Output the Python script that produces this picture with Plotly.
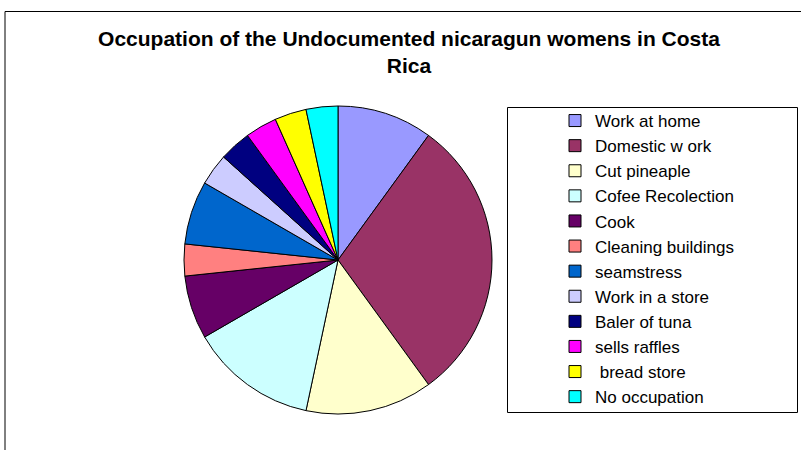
import plotly.graph_objects as go

W, H = 801, 450

labels = ["Work at home", "Domestic w ork", "Cut pineaple", "Cofee Recolection", "Cook",
          "Cleaning buildings", "seamstress", "Work in a store", "Baler of tuna",
          "sells raffles", " bread store", "No occupation"]
values = [3, 9, 4, 4, 2, 1, 2, 1, 1, 1, 1, 1]
colors = ["#9999FF", "#993366", "#FFFFCC", "#CCFFFF", "#660066", "#FF8080",
          "#0066CC", "#CCCCFF", "#000080", "#FF00FF", "#FFFF00", "#00FFFF"]
title = "Occupation of the Undocumented nicaragun womens in Costa<br>Rica"

# geometry (pixels)
cx, cy, r = 338, 260, 154

fig = go.Figure(go.Pie(
    labels=labels,
    values=values,
    marker=dict(colors=colors, line=dict(color="#000000", width=1)),
    sort=False, direction="clockwise", rotation=0,
    textinfo="none", hoverinfo="label+value+percent",
    domain=dict(x=[(cx - r) / W, (cx + r) / W], y=[(H - cy - r) / H, (H - cy + r) / H]),
))

fig.update_layout(
    width=W, height=H,
    margin=dict(l=0, r=0, t=0, b=0),
    paper_bgcolor="white", plot_bgcolor="white",
    font=dict(family="Liberation Sans, Arial, sans-serif", color="#000000"),
    title=dict(text=title, x=409 / W, xanchor="center", y=1 - 46 / H, yanchor="middle",
               xref="container", yref="container",
               font=dict(size=21, family="Liberation Sans, Arial, sans-serif", color="#000000", weight="bold")),
    legend=dict(x=555 / W, xanchor="left", y=1 - 103 / H, yanchor="top",
                font=dict(size=17, color="#000000"), bgcolor="rgba(0,0,0,0)",
                borderwidth=0, traceorder="normal"),
    shapes=[
        dict(type="rect", xref="paper", yref="paper", x0=5 / W, x1=1.02, y0=-0.05, y1=1 - 11.5 / H,
             line=dict(color="#000000", width=1), layer="below"),
        dict(type="rect", xref="paper", yref="paper", x0=507.5 / W, x1=797.5 / W,
             y0=1 - 412.5 / H, y1=1 - 107.5 / H, line=dict(color="#000000", width=1), layer="below"),
    ],
)

fig.write_html("out.html")
